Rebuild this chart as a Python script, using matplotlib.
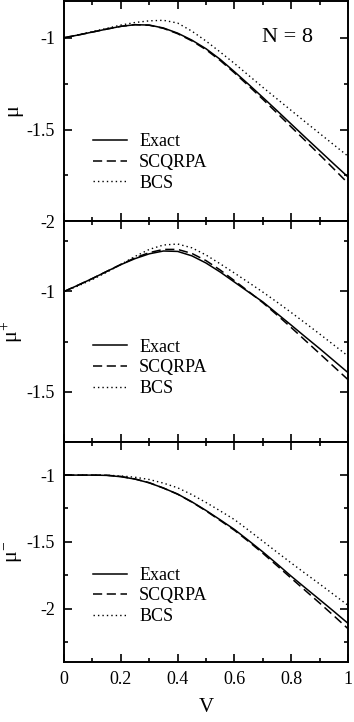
import numpy as np
import matplotlib
matplotlib.use("Agg")
import matplotlib.pyplot as plt
from matplotlib.ticker import MultipleLocator, FormatStrFormatter

plt.rcParams['font.family'] = ['Liberation Serif', 'DejaVu Serif']
plt.rcParams['mathtext.fontset'] = 'custom'
plt.rcParams['mathtext.rm'] = 'Liberation Serif'
plt.rcParams['mathtext.it'] = 'Liberation Serif:italic'
plt.rcParams['axes.unicode_minus'] = False

# coupling strength V
V = [0.0, 0.05, 0.1, 0.15, 0.2, 0.25, 0.3, 0.35, 0.4, 0.45, 0.5,
     0.55, 0.6, 0.65, 0.7, 0.75, 0.8, 0.85, 0.9, 0.95, 1.0]

# mu
mu_exact = [-1.000, -0.985, -0.969, -0.953, -0.938, -0.929, -0.931, -0.947, -0.975, -1.013, -1.060,
            -1.118, -1.185, -1.254, -1.325, -1.397, -1.470, -1.543, -1.615, -1.687, -1.758]
mu_scqrpa = [-1.000, -0.985, -0.969, -0.953, -0.938, -0.929, -0.932, -0.949, -0.978, -1.017, -1.065,
             -1.124, -1.191, -1.262, -1.335, -1.410, -1.486, -1.561, -1.637, -1.714, -1.792]
mu_bcs = [-1.000, -0.984, -0.967, -0.949, -0.931, -0.917, -0.908, -0.905, -0.920, -0.964, -1.018,
          -1.078, -1.140, -1.205, -1.270, -1.333, -1.396, -1.459, -1.521, -1.583, -1.645]

# mu+
mup_exact = [-1.000, -0.968, -0.935, -0.900, -0.866, -0.836, -0.812, -0.798, -0.800, -0.822, -0.858,
             -0.903, -0.953, -1.003, -1.052, -1.110, -1.168, -1.227, -1.285, -1.345, -1.405]
mup_scqrpa = [-1.000, -0.968, -0.935, -0.900, -0.865, -0.832, -0.806, -0.790, -0.790, -0.810, -0.846,
              -0.893, -0.946, -1.000, -1.056, -1.117, -1.180, -1.245, -1.310, -1.375, -1.440]
mup_bcs = [-1.000, -0.972, -0.940, -0.904, -0.865, -0.825, -0.790, -0.768, -0.763, -0.782, -0.818,
           -0.862, -0.908, -0.955, -1.003, -1.053, -1.105, -1.158, -1.212, -1.267, -1.322]

# mu-
mum_exact = [-1.000, -1.000, -1.000, -1.002, -1.012, -1.030, -1.058, -1.097, -1.142, -1.200, -1.265,
             -1.335, -1.407, -1.490, -1.575, -1.665, -1.757, -1.845, -1.932, -2.020, -2.110]
mum_scqrpa = [-1.000, -1.000, -1.000, -1.001, -1.010, -1.029, -1.057, -1.097, -1.143, -1.202, -1.268,
              -1.340, -1.413, -1.497, -1.585, -1.678, -1.772, -1.865, -1.958, -2.053, -2.150]
mum_bcs = [-1.000, -1.000, -1.000, -1.001, -1.006, -1.016, -1.033, -1.060, -1.095, -1.146, -1.205,
           -1.268, -1.333, -1.413, -1.495, -1.577, -1.658, -1.737, -1.815, -1.895, -1.975]

panels = [
    (r'$\mathrm{\mu}$', mu_exact, mu_scqrpa, mu_bcs, (-2.0, -0.8), 0.267),
    (r'$\mathrm{\mu}^{+}$', mup_exact, mup_scqrpa, mup_bcs, (-1.75, -0.65), 0.335),
    (r'$\mathrm{\mu}^{-}$', mum_exact, mum_scqrpa, mum_bcs, (-2.4, -0.75), 0.300),
]

fig, axes = plt.subplots(3, 1, sharex=True, figsize=(3.54, 7.22), dpi=100)
plt.subplots_adjust(left=0.181, right=0.983, top=0.9986, bottom=0.083, hspace=0)

for ax, (lab, ex, sc, bc, ylim, leg_y) in zip(axes, panels):
    ax.plot(V, ex, color='k', lw=1.1, ls='-', label='Exact')
    ax.plot(V, sc, color='k', lw=1.1, ls=(0, (6, 3)), label='SCQRPA')
    ax.plot(V, bc, color='k', lw=1.0, ls=(0, (1, 2.2)), label='BCS')
    ax.set_xlim(0, 1)
    ax.set_ylim(*ylim)
    ax.xaxis.set_major_locator(MultipleLocator(0.2))
    ax.xaxis.set_minor_locator(MultipleLocator(0.1))
    ax.yaxis.set_major_locator(MultipleLocator(0.5))
    ax.yaxis.set_minor_locator(MultipleLocator(0.25))
    ax.xaxis.set_major_formatter(FormatStrFormatter('%g'))
    ax.yaxis.set_major_formatter(FormatStrFormatter('%g'))
    ax.tick_params(which='both', direction='in', top=True, right=True, labelsize=13, width=1.2)
    ax.tick_params(which='major', length=6, pad=6.5)
    ax.tick_params(which='minor', length=3)
    for s in ax.spines.values():
        s.set_linewidth(1.4)
    ax.set_ylabel(lab, fontsize=16)
    ax.yaxis.set_label_coords(-0.135, 0.5)
    ax.legend(loc='center left', bbox_to_anchor=(0.102, leg_y), frameon=False, fontsize=13,
              handlelength=1.9, handletextpad=0.65, labelspacing=0.2, borderpad=0, borderaxespad=0)

axes[0].text(0.877, 0.833, 'N = 8', transform=axes[0].transAxes, ha='right', va='center', fontsize=16)
axes[2].set_xlabel('V', fontsize=15, labelpad=7)

fig.savefig('out.png', dpi=100)
